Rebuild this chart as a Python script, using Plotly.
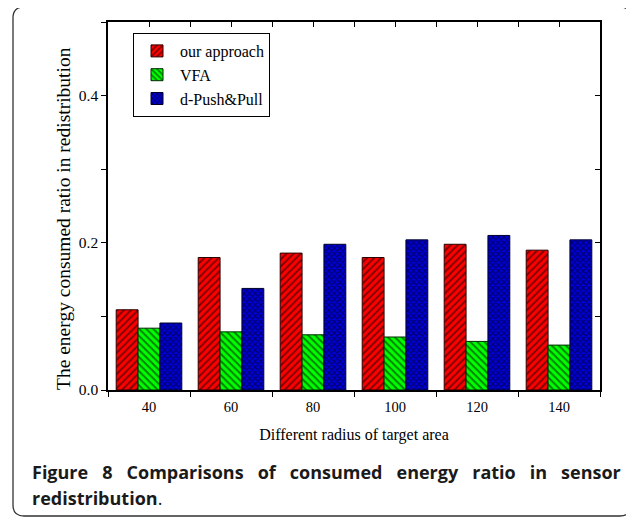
import plotly.graph_objects as go

categories = ["40", "60", "80", "100", "120", "140"]
our_approach = [0.109, 0.180, 0.186, 0.180, 0.198, 0.190]
vfa = [0.084, 0.079, 0.075, 0.072, 0.066, 0.061]
push_pull = [0.091, 0.138, 0.198, 0.204, 0.210, 0.204]
series_names = ["our approach", "VFA", "d-Push&Pull"]
y_ticks = [0.0, 0.2, 0.4]

SERIF = "Liberation Serif, Times New Roman, serif"

fig = go.Figure()
fig.add_trace(go.Bar(
    x=categories, y=our_approach, name=series_names[0],
    marker=dict(color="#ff0000", line=dict(color="#2a0000", width=1),
                pattern=dict(shape="/", fgcolor="black", bgcolor="#ff0000", size=5, solidity=0.4)),
))
fig.add_trace(go.Bar(
    x=categories, y=vfa, name=series_names[1],
    marker=dict(color="#00ff00", line=dict(color="#002a00", width=1),
                pattern=dict(shape="\\", fgcolor="black", bgcolor="#00ff00", size=5, solidity=0.4)),
))
fig.add_trace(go.Bar(
    x=categories, y=push_pull, name=series_names[2],
    marker=dict(color="#0000dd", line=dict(color="#00002a", width=1),
                pattern=dict(shape="x", fgcolor="black", bgcolor="#0000dd", size=4, solidity=0.5)),
))
# helper trace for mirrored (top/right) axes
fig.add_trace(go.Scatter(x=[0], y=[0], xaxis="x2", yaxis="y2", mode="markers",
                         marker=dict(opacity=0), showlegend=False, hoverinfo="skip"))

# page pixel -> paper conversion (plot area spans page x 108..600, y 22..390)
def px(xp):
    return (xp - 108) / 492
def py(yp):
    return (390 - yp) / 368

fig.update_layout(
    width=634, height=518,
    margin=dict(l=100, r=42, t=14, b=136),
    paper_bgcolor="white", plot_bgcolor="white",
    barmode="group", bargap=0.2, bargroupgap=0,
    font=dict(family=SERIF, size=14, color="black"),
    showlegend=True,
    legend=dict(x=px(133), y=py(33), xanchor="left", yanchor="top",
                bordercolor="black", borderwidth=1, bgcolor="white",
                font=dict(family=SERIF, size=16), tracegroupgap=0,
                itemwidth=36),
    xaxis=dict(type="category", range=[-0.5, 5.5], tickson="boundaries",
               ticks="outside", ticklen=5, tickwidth=1, tickcolor="black",
               ticklabelstandoff=3,
               showline=True, linecolor="black", linewidth=1.5,
               showgrid=False, zeroline=False,
               tickfont=dict(family=SERIF, size=14.5),
               title=dict(text="Different radius of target area",
                          font=dict(family=SERIF, size=16), standoff=15)),
    yaxis=dict(range=[0, 0.5], tickvals=y_ticks, tickformat=".1f",
               ticks="outside", ticklen=5, tickwidth=1, tickcolor="black",
               minor=dict(dtick=0.1, tick0=0, ticks="outside", ticklen=5, tickcolor="black", showgrid=False),
               showline=True, linecolor="black", linewidth=1.5,
               showgrid=False, zeroline=False,
               tickfont=dict(family=SERIF, size=15.5)),
    xaxis2=dict(overlaying="x", side="top", range=[-0.5, 5.5], tick0=-0.5, dtick=0.5,
                ticks="inside", ticklen=5, tickcolor="black", showticklabels=False,
                showline=True, linecolor="black", linewidth=1.5, showgrid=False, zeroline=False),
    yaxis2=dict(overlaying="y", side="right", range=[0, 0.5], dtick=0.1, tick0=0,
                ticks="inside", ticklen=5, tickcolor="black", showticklabels=False,
                showline=True, linecolor="black", linewidth=1.5, showgrid=False, zeroline=False),
)

# y-axis title (placed as rotated text, offset as in the original)
fig.add_annotation(text="The energy consumed ratio in redistribution", textangle=-90,
                   xref="paper", yref="paper", x=px(63), y=py(219),
                   xanchor="center", yanchor="middle", showarrow=False,
                   font=dict(family=SERIF, size=19.5, color="black"))

# rounded frame around figure + caption
L, R, T, B, r = 13, 631, 7, 516, 11
path = (f"M {px(L)},{py(B - r)} L {px(L)},{py(T + r)} Q {px(L)},{py(T)} {px(L + r)},{py(T)} "
        f"L {px(R - r)},{py(T)} Q {px(R)},{py(T)} {px(R)},{py(T + r)} "
        f"L {px(R)},{py(B - r)} Q {px(R)},{py(B)} {px(R - r)},{py(B)} "
        f"L {px(L + r)},{py(B)} Q {px(L)},{py(B)} {px(L)},{py(B - r)} Z")
fig.add_shape(type="path", path=path, xref="paper", yref="paper",
              line=dict(color="#333333", width=1.3), layer="below")

CAP = "Open Sans, Noto Sans, sans-serif"
gap = "   "
line1 = gap.join(["Figure", "8", "Comparisons", "of", "consumed", "energy", "ratio", "in", "sensor"])
fig.add_annotation(text=f"<b>{line1}</b>",
                   xref="paper", yref="paper", x=px(30), y=py(472), xanchor="left", yanchor="middle",
                   showarrow=False, font=dict(family=CAP, size=18, color="#1a1a1a"))
fig.add_annotation(text="<b>redistribution</b>.",
                   xref="paper", yref="paper", x=px(30), y=py(498), xanchor="left", yanchor="middle",
                   showarrow=False, font=dict(family=CAP, size=18, color="#1a1a1a"))

fig.write_html("out.html")
